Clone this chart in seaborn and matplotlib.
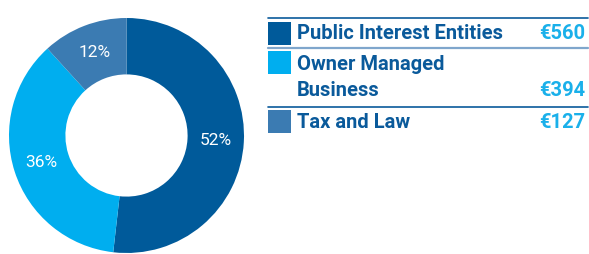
import matplotlib
matplotlib.use("Agg")
import matplotlib.pyplot as plt
import seaborn as sns
from matplotlib.patches import Rectangle
from matplotlib.lines import Line2D

# data
categories = ["Public Interest Entities", "Owner Managed\nBusiness", "Tax and Law"]
values = [560, 394, 127]
value_labels = ["€560", "€394", "€127"]
colors = ["#005a9a", "#00aeef", "#3b7bb2"]

sns.set_style("white")
plt.rcParams["font.family"] = ["Roboto", "DejaVu Sans"]

W, H = 589, 254
fig = plt.figure(figsize=(W / 100, H / 100), dpi=100)

# donut
ax = fig.add_axes([9 / W, 1 / H, 235 / W, 235 / H])
wedges, texts, autotexts = ax.pie(
    values, colors=colors, startangle=90, counterclock=False,
    autopct="%1.0f%%", pctdistance=0.76,
    wedgeprops=dict(width=0.48, linewidth=0),
    textprops=dict(color="white", fontsize=12.5),
)
ax.set_xlim(-1, 1)
ax.set_ylim(-1, 1)
ax.set_aspect("equal")
ax.axis("off")

# legend table drawn in pixel coords
lax = fig.add_axes([0, 0, 1, 1])
lax.set_xlim(0, W)
lax.set_ylim(H, 0)
lax.axis("off")

dark = "#0a5a9b"
valc = "#1ab0ea"
lax.add_line(Line2D([268, 588], [18, 18], color=dark, lw=1.2))
lax.add_line(Line2D([268, 588], [47.8, 47.8], color="#7fa6cc", lw=1.6))
lax.add_line(Line2D([268, 588], [107, 107], color=dark, lw=1.2))

sq_tops = [22, 51, 110]
first_line_y = [33.5, 65, 122]
for sq_top, ty, cat, val, col in zip(sq_tops, first_line_y, categories, value_labels, colors):
    lax.add_patch(Rectangle((268, sq_top), 23, 22.5, color=col, lw=0))
    lines = cat.split("\n")
    for i, line in enumerate(lines):
        lax.text(297, ty + 25 * i, line, color=dark, fontsize=14.5, fontweight="bold",
                 va="center", ha="left")
    lax.text(585, ty + 25 * (len(lines) - 1), val, color=valc, fontsize=14.5,
             fontweight="bold", va="center", ha="right")

fig.savefig("out.png", dpi=100)
